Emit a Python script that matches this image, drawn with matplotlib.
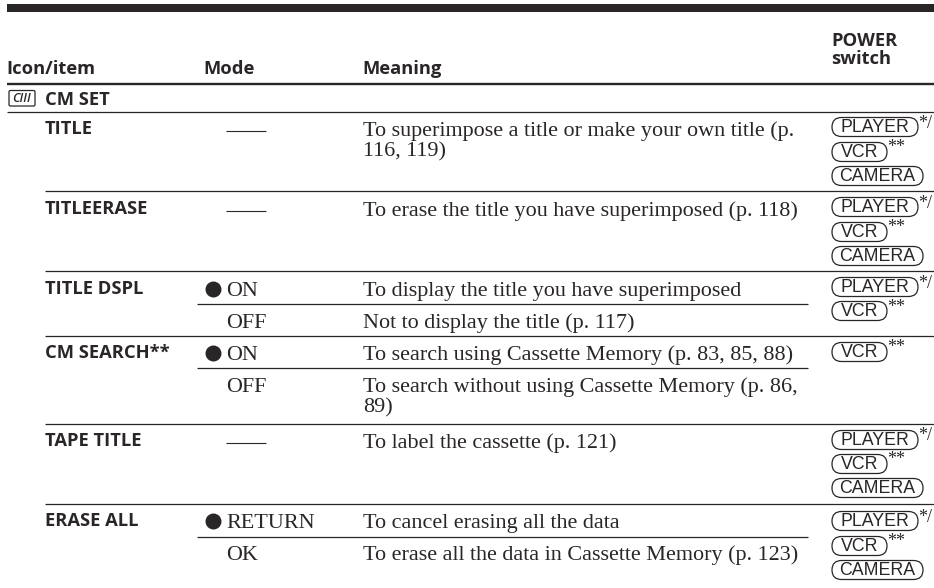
import matplotlib
matplotlib.use("Agg")
import matplotlib.pyplot as plt
from matplotlib.patches import FancyBboxPatch, Rectangle

# ---- content ----
headers = ["Icon/item", "Mode", "Meaning", "POWER", "switch"]
section = "CM SET"
items = ["TITLE", "TITLEERASE", "TITLE DSPL", "CM SEARCH**", "TAPE TITLE", "ERASE ALL"]
modes = ["——", "——", "ON", "OFF", "ON", "OFF", "——", "RETURN", "OK"]
mode_default = [False, False, True, False, True, False, False, True, False]
meanings = [
    "To superimpose a title or make your own title (p.\n116, 119)",
    "To erase the title you have superimposed (p. 118)",
    "To display the title you have superimposed",
    "Not to display the title (p. 117)",
    "To search using Cassette Memory (p. 83, 85, 88)",
    "To search without using Cassette Memory (p. 86,\n89)",
    "To label the cassette (p. 121)",
    "To cancel erasing all the data",
    "To erase all the data in Cassette Memory (p. 123)",
]
switch_sets = [
    ["PLAYER", "VCR", "CAMERA"],
    ["PLAYER", "VCR", "CAMERA"],
    ["PLAYER", "VCR"],
    ["VCR"],
    ["PLAYER", "VCR", "CAMERA"],
    ["PLAYER", "VCR", "CAMERA"],
]
switch_marks = {"PLAYER": "*/", "VCR": "**", "CAMERA": ""}

# ---- layout (pixels) ----
W, H = 934, 588
INK = "#2a2627"
SANS = "Open Sans"
SERIF = "Liberation Serif"
SZ_H, SZ_B = 13.2, 15.9
X_ITEM, X_MODE_DOT, X_MODE, X_MEAN, X_SW = 45, 213, 226, 363, 832
item_y = [129, 209, 289, 353, 441, 521]
base_y = [136, 216, 296, 328, 360, 392, 448, 528, 560]
switch_y = [[127, 152, 176], [207, 232, 256], [287, 311], [352],
            [440, 464, 488], [521, 546, 570]]
cap_w = {"PLAYER": 86, "VCR": 55, "CAMERA": 91}
rules = [(7, 83.5, 1.7), (7, 111.5, 0.9), (45, 191, 0.9), (45, 271.3, 0.9),
         (45, 335.5, 0.9), (45, 423.5, 0.9), (45, 504, 0.9)]
subrules = [(197, 808, 303.5), (197, 808, 367.5), (197, 808, 536.5)]

fig = plt.figure(figsize=(W / 100, H / 100), dpi=100)
ax = fig.add_axes([0, 0, 1, 1])
ax.set_xlim(0, W)
ax.set_ylim(H, 0)
ax.axis("off")

ax.add_patch(Rectangle((7, 4), W - 7, 7.5, color=INK, lw=0))
for x0, y, lw in rules:
    ax.plot([x0, W], [y, y], color=INK, lw=lw, solid_capstyle="butt")
for x0, x1, y in subrules:
    ax.plot([x0, x1], [y, y], color=INK, lw=0.9, solid_capstyle="butt")

head_x = [6.5, 203.5, 362.5, X_SW - 0.5, X_SW - 0.5]
head_y = [74, 74, 74, 46, 64]
for label, x, y in zip(headers, head_x, head_y):
    ax.text(x, y, label, family=SANS, weight="bold", fontsize=SZ_H, color=INK, va="baseline")

# section row
ax.add_patch(FancyBboxPatch((9, 90.5), 26, 15.5, boxstyle="round,pad=0,rounding_size=1.5",
                            fc="white", ec=INK, lw=0.9))
ax.text(22, 98, "CIII", family=SANS, style="italic", weight="semibold", fontsize=9,
        color=INK, ha="center", va="center")
ax.text(45, 100, section, family=SANS, weight="bold", fontsize=SZ_H, color=INK, va="center")

for label, y in zip(items, item_y):
    ax.text(X_ITEM, y, label, family=SANS, weight="bold", fontsize=SZ_H, color=INK, va="center")

for label, y, dflt in zip(modes, base_y, mode_default):
    if label == "——":
        ax.plot([226, 266], [y - 5, y - 5], color=INK, lw=0.8, solid_capstyle="butt")
        continue
    ax.text(X_MODE, y, label, family=SERIF, fontsize=SZ_B, color=INK, va="baseline")
    if dflt:
        ax.plot([X_MODE_DOT], [y - 7], "o", ms=11.5, color=INK, mew=0)

for label, y in zip(meanings, base_y):
    for i, line in enumerate(label.split("\n")):
        ax.text(X_MEAN, y + 20.5 * i, line, family=SERIF, fontsize=SZ_B, color=INK, va="baseline")

for group, ys in zip(switch_sets, switch_y):
    for name, y in zip(group, ys):
        w = cap_w[name]
        ax.add_patch(FancyBboxPatch((X_SW, y - 9.5), w, 19,
                                    boxstyle="round,pad=0,rounding_size=9.5",
                                    fc="white", ec=INK, lw=0.9))
        ax.text(X_SW + w / 2, y + 0.3, name, family="Liberation Sans", fontsize=12.8, color=INK,
                ha="center", va="center")
        mark = switch_marks[name]
        if mark:
            ax.text(X_SW + w + 0.5, y + 0.5, mark, family=SERIF, fontsize=13, color=INK, va="baseline")

fig.savefig("out.png", dpi=100, facecolor="white")
